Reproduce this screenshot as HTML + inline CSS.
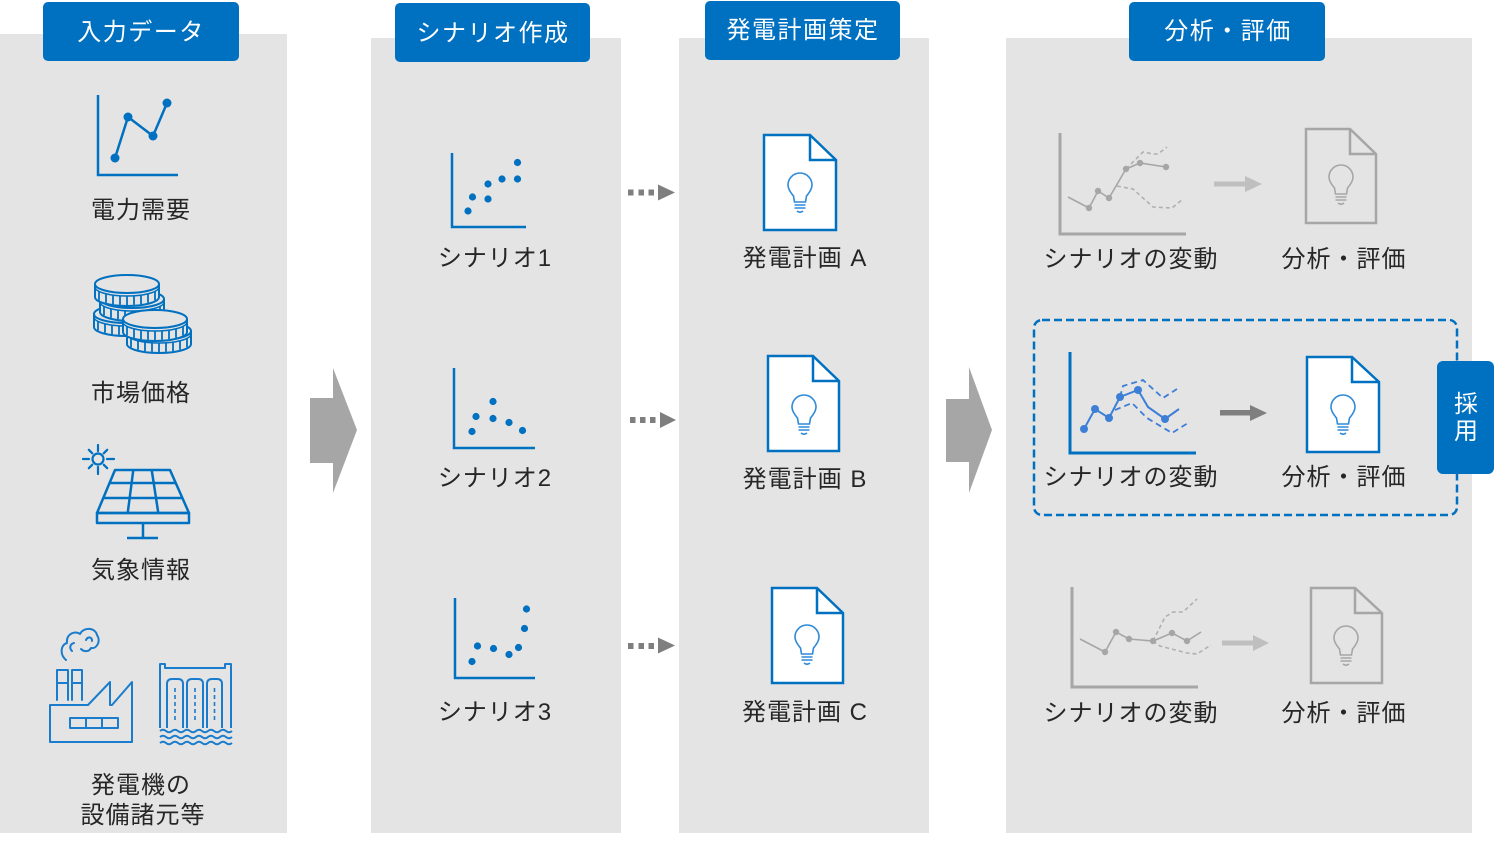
<!DOCTYPE html>
<html><head><meta charset="utf-8"><style>
html,body{margin:0;padding:0;background:#fff;}
svg{display:block;}
text{font-family:"Liberation Sans","Noto Sans CJK JP",sans-serif;}
.t{font-size:24px;fill:#262626;letter-spacing:1px;text-anchor:middle;}
.h{font-size:24px;fill:#fff;letter-spacing:1.5px;text-anchor:middle;}
</style></head><body>
<svg width="1506" height="849" viewBox="0 0 1506 849" xmlns="http://www.w3.org/2000/svg">
<defs>
<g id="coin" stroke="#0070c0" fill="#e4e4e4">
<path d="M-32,0 V13 A32,9 0 0 0 32,13 V0" stroke-width="2"/>
<ellipse cx="0" cy="0" rx="32" ry="9" stroke-width="2"/>
<path d="M-32,3 A32,9 0 0 0 32,3" fill="none" stroke-width="1.5"/>
<path d="M-28,7.4 V16.4 M-21,9.8 V18.8 M-14,11.1 V20.1 M-7,11.8 V20.8 M0,12 V21 M7,11.8 V20.8 M14,11.1 V20.1 M21,9.8 V18.8 M28,7.4 V16.4" fill="none" stroke-width="1.8"/>
</g>
<g id="bulbB" fill="none" stroke="#2f8ad8" stroke-width="1.6">
<path d="M-6.5,11 C-8,9 -12,5 -12,0 A12,12 0 1 1 12,0 C12,5 8,9 6.5,11 L5.5,17 H-5.5 Z"/>
<path d="M-5.5,20 H5.5 M-5.5,23 H5.5 M-3,26 Q0,28.5 3,26"/>
</g>
<g id="bulbG" fill="none" stroke="#a6a6a6" stroke-width="1.6">
<path d="M-6.5,11 C-8,9 -12,5 -12,0 A12,12 0 1 1 12,0 C12,5 8,9 6.5,11 L5.5,17 H-5.5 Z"/>
<path d="M-5.5,20 H5.5 M-5.5,23 H5.5 M-3,26 Q0,28.5 3,26"/>
</g>
</defs>

<!-- panels -->
<rect x="0" y="34" width="287" height="799" fill="#e4e4e4"/>
<rect x="371" y="38" width="250" height="795" fill="#e4e4e4"/>
<rect x="679" y="38" width="250" height="795" fill="#e4e4e4"/>
<rect x="1006" y="38" width="466" height="795" fill="#e4e4e4"/>

<!-- tabs -->
<rect x="43" y="2" width="196" height="59" rx="5" fill="#0070c0"/>
<rect x="395" y="3" width="195" height="59" rx="5" fill="#0070c0"/>
<rect x="705" y="1" width="195" height="59" rx="5" fill="#0070c0"/>
<rect x="1129" y="2" width="196" height="59" rx="5" fill="#0070c0"/>
<text class="h" x="141" y="40">入力データ</text>
<text class="h" x="493" y="41">シナリオ作成</text>
<text class="h" x="803" y="38">発電計画策定</text>
<text class="h" x="1228" y="39">分析・評価</text>

<!-- big arrows -->
<polygon points="310,398 333,398 333,368 357,430 333,493 333,463 310,463" fill="#a6a6a6"/>
<polygon points="946,399 969,399 969,367 992,430 969,493 969,462 946,462" fill="#a6a6a6"/>

<!-- panel 1: line chart -->
<g fill="none" stroke="#0070c0" stroke-width="2.5">
<polyline points="98,95 98,175 178,175"/>
<polyline points="115,158 128,117 153,136 167,103"/>
</g>
<g fill="#0070c0">
<circle cx="115" cy="158" r="4.5"/><circle cx="128" cy="117" r="4.5"/><circle cx="153" cy="136" r="4.5"/><circle cx="167" cy="103" r="4.5"/>
</g>
<text class="t" x="141" y="218">電力需要</text>

<!-- coins -->
<use href="#coin" x="126" y="314"/>
<use href="#coin" x="132" y="299"/>
<use href="#coin" x="127" y="284"/>
<use href="#coin" x="159" y="331"/>
<use href="#coin" x="155" y="319"/>
<text class="t" x="141" y="401">市場価格</text>

<!-- solar -->
<g fill="none" stroke="#0070c0" stroke-width="2.2" stroke-linecap="round">
<circle cx="98" cy="459" r="5.5"/>
<path d="M98,445 V451 M98,467 V474 M83,459 H89 M107,459 H114 M103.7,453.3 L107.2,449.8 M92.3,453.3 L88.8,449.8 M103.7,464.7 L107.2,468.2 M92.3,464.7 L88.8,468.2"/>
</g>
<g fill="none" stroke="#0070c0" stroke-width="2.5" stroke-linejoin="round">
<path d="M115,470 H170 L189,513 H97 Z"/>
<rect x="97" y="513" width="92" height="10"/>
<path d="M143,523 V538 M127,538 H158"/>
<path d="M109.6,483 H175.7 M103.3,498 H182.4 M133.3,470 L127.7,513 M151.7,470 L158.3,513"/>
</g>
<text class="t" x="141" y="578">気象情報</text>

<!-- factory -->
<g fill="none" stroke="#1a7ccc" stroke-width="2" stroke-linejoin="round" stroke-linecap="round">
<path d="M66,660 C60,655 60,645 67,643 C66,634 75,630 80,634 C83,627 95,627 97,635 C101,641 97,649 91,648 C89,652 84,652 81,649"/>
<path d="M72,651 C69,648 70,644 74,643 M86,640 C88,636 92,637 92,641"/>
<path d="M57,700 V670 H68 V700 M72,700 V670 H82 V700 M57,683 H68 M72,683 H82"/>
<path d="M50,705 H88 L110,682 V705 H112 L132,682 V742 H50 Z"/>
<rect x="70" y="718" width="48" height="10"/>
<path d="M86,718 V728 M102,718 V728"/>
</g>
<!-- dam -->
<g fill="none" stroke="#1a7ccc" stroke-width="2" stroke-linejoin="round">
<path d="M160,728 V664 H165 V668 H225 V664 H231 V728"/>
<path d="M167,728 V684 Q167,679 172,679 H178 Q183,679 183,684 V728"/>
<path d="M187,728 V684 Q187,679 192,679 H198 Q203,679 203,684 V728"/>
<path d="M207,728 V684 Q207,679 212,679 H217 Q222,679 222,684 V728"/>
<path d="M175,688 V722 M195,688 V722 M214.5,688 V722" stroke-dasharray="4 3" stroke-width="1.6"/>
<path d="M160,731 q3,-2.5 6,0 t6,0 t6,0 t6,0 t6,0 t6,0 t6,0 t6,0 t6,0 t6,0 t6,0 t6,0"/>
<path d="M160,737 q3,-2.5 6,0 t6,0 t6,0 t6,0 t6,0 t6,0 t6,0 t6,0 t6,0 t6,0 t6,0 t6,0"/>
<path d="M160,743 q3,-2.5 6,0 t6,0 t6,0 t6,0 t6,0 t6,0 t6,0 t6,0 t6,0 t6,0 t6,0 t6,0"/>
</g>
<text class="t" x="141" y="793">発電機の</text>
<text class="t" x="143" y="823">設備諸元等</text>

<!-- scatter 1 -->
<polyline points="452,153 452,227 526,227" fill="none" stroke="#0070c0" stroke-width="2.5"/>
<g fill="#0070c0">
<circle cx="517.5" cy="162.5" r="3.6"/><circle cx="502" cy="179" r="3.6"/><circle cx="517.5" cy="179" r="3.6"/><circle cx="488" cy="184" r="3.6"/><circle cx="488" cy="199" r="3.6"/><circle cx="472.5" cy="197" r="3.6"/><circle cx="468" cy="211" r="3.6"/>
</g>
<text class="t" x="495" y="266">シナリオ1</text>

<!-- scatter 2 -->
<polyline points="454,368 454,448 535,448" fill="none" stroke="#0070c0" stroke-width="2.5"/>
<g fill="#0070c0">
<circle cx="472" cy="431.5" r="3.6"/><circle cx="476" cy="416.5" r="3.6"/><circle cx="493" cy="401.5" r="3.6"/><circle cx="493" cy="418.5" r="3.6"/><circle cx="509" cy="422.5" r="3.6"/><circle cx="522.5" cy="430.5" r="3.6"/>
</g>
<text class="t" x="495" y="486">シナリオ2</text>

<!-- scatter 3 -->
<polyline points="455,598 455,678 535,678" fill="none" stroke="#0070c0" stroke-width="2.5"/>
<g fill="#0070c0">
<circle cx="472" cy="661.5" r="3.6"/><circle cx="477.5" cy="646" r="3.6"/><circle cx="493.5" cy="648.5" r="3.6"/><circle cx="509" cy="654.5" r="3.6"/><circle cx="518.5" cy="647.5" r="3.6"/><circle cx="524.5" cy="628.5" r="3.6"/><circle cx="526.5" cy="609" r="3.6"/>
</g>
<text class="t" x="495" y="720">シナリオ3</text>

<!-- dotted arrows -->
<g fill="#7f7f7f">
<rect x="628" y="189.5" width="5.5" height="6"/><rect x="638.5" y="189.5" width="5.5" height="6"/><rect x="648.5" y="189.5" width="5.5" height="6"/>
<polygon points="658,184.5 675,192.5 658,200.5"/>
<rect x="630" y="417" width="5.5" height="6"/><rect x="640" y="417" width="5.5" height="6"/><rect x="650" y="417" width="5.5" height="6"/>
<polygon points="660,412 676,420 660,428"/>
<rect x="628" y="643" width="5.5" height="6"/><rect x="638.5" y="643" width="5.5" height="6"/><rect x="648.5" y="643" width="5.5" height="6"/>
<polygon points="658,637.5 675,645.5 658,653.5"/>
</g>

<!-- docs panel 3 -->
<g fill="#fff" stroke="#0070c0" stroke-width="2.5" stroke-linejoin="miter">
<path d="M764,135 H810 L836,160 V230 H764 Z"/>
<path d="M768,356 H813 L839,381 V451 H768 Z"/>
<path d="M772,588 H817 L843,613 V683 H772 Z"/>
</g>
<g fill="none" stroke="#0070c0" stroke-width="2.5">
<path d="M810,135 V160 H836"/>
<path d="M813,356 V381 H839"/>
<path d="M817,588 V613 H843"/>
</g>
<use href="#bulbB" x="800" y="185"/>
<use href="#bulbB" x="804" y="407"/>
<use href="#bulbB" x="807" y="637"/>
<text class="t" x="805" y="266">発電計画 A</text>
<text class="t" x="805" y="487">発電計画 B</text>
<text class="t" x="805" y="720">発電計画 C</text>

<!-- panel 4 row 1 (gray) -->
<polyline points="1060,133 1060,234 1186,234" fill="none" stroke="#a6a6a6" stroke-width="3"/>
<polyline points="1068,197 1089,208 1098,191 1109,198 1126,169 1140,163 1166,167" fill="none" stroke="#a6a6a6" stroke-width="1.6"/>
<g fill="none" stroke="#b0b0b0" stroke-width="1.6" stroke-dasharray="4 3">
<polyline points="1126,169 1143,152 1153,154 1158,154 1167,147"/>
<polyline points="1117,186 1133,189 1153,207 1172,208 1183,199"/>
</g>
<g fill="#a6a6a6">
<circle cx="1089" cy="208" r="3.2"/><circle cx="1098" cy="191" r="3.2"/><circle cx="1109" cy="198" r="3.2"/><circle cx="1126" cy="169" r="3.2"/><circle cx="1140" cy="163" r="3.2"/><circle cx="1166" cy="167" r="3.2"/>
</g>
<rect x="1214" y="181.5" width="32" height="5" fill="#bfbfbf"/>
<polygon points="1245,176 1262,184 1245,192" fill="#bfbfbf"/>
<path d="M1306,129 H1350 L1376,154 V223 H1306 Z M1350,129 V154 H1376" fill="none" stroke="#a6a6a6" stroke-width="2.5"/>
<use href="#bulbG" x="1341" y="177"/>
<text class="t" x="1131" y="267">シナリオの変動</text>
<text class="t" x="1344" y="267">分析・評価</text>

<!-- panel 4 row 2 (blue) -->
<rect x="1034" y="320" width="423" height="195" rx="8" fill="none" stroke="#0070c0" stroke-width="2.5" stroke-dasharray="8 4"/>
<polyline points="1070,352 1070,453 1196,453" fill="none" stroke="#0070c0" stroke-width="3"/>
<polyline points="1084,429 1095,409 1109,418 1120,397 1138,390 1148,407 1165,419 1179,409" fill="none" stroke="#3d7fd6" stroke-width="2"/>
<g fill="none" stroke="#3d7fd6" stroke-width="1.8" stroke-dasharray="6 4">
<polyline points="1120,397 1123,386 1143,380 1163,398 1177,389"/>
<polyline points="1115,410 1132,403 1147,418 1172,433 1188,423"/>
</g>
<g fill="#3d7fd6">
<circle cx="1084" cy="429" r="4"/><circle cx="1095" cy="409" r="4"/><circle cx="1109" cy="418" r="4"/><circle cx="1120" cy="397" r="4"/><circle cx="1138" cy="390" r="4"/><circle cx="1165" cy="419" r="4"/>
</g>
<rect x="1220" y="410" width="31" height="5.5" fill="#7f7f7f"/>
<polygon points="1250,405 1267,413 1250,421" fill="#7f7f7f"/>
<path d="M1307,357 H1352 L1379,382 V452 H1307 Z" fill="#fff" stroke="#0070c0" stroke-width="2.5"/>
<path d="M1352,357 V382 H1379" fill="none" stroke="#0070c0" stroke-width="2.5"/>
<use href="#bulbB" x="1343" y="407"/>
<text class="t" x="1131" y="485">シナリオの変動</text>
<text class="t" x="1344" y="485">分析・評価</text>

<!-- 採用 tag -->
<rect x="1437" y="361" width="57" height="113" rx="6" fill="#0070c0"/>
<text class="h" x="1466" y="412" style="letter-spacing:0">採</text>
<text class="h" x="1466" y="439" style="letter-spacing:0">用</text>

<!-- panel 4 row 3 (gray) -->
<polyline points="1072,587 1072,687 1198,687" fill="none" stroke="#a6a6a6" stroke-width="3"/>
<polyline points="1080,639 1105,652 1116,632 1129,639 1153,641 1172,633 1187,641 1201,632" fill="none" stroke="#a6a6a6" stroke-width="1.6"/>
<g fill="none" stroke="#b0b0b0" stroke-width="1.6" stroke-dasharray="4 3">
<polyline points="1153,641 1165,617 1173,612 1183,612 1197,599"/>
<polyline points="1153,641 1160,646 1187,653 1197,654 1211,645"/>
</g>
<g fill="#a6a6a6">
<circle cx="1105" cy="652" r="3.2"/><circle cx="1116" cy="632" r="3.2"/><circle cx="1129" cy="639" r="3.2"/><circle cx="1153" cy="641" r="3.2"/><circle cx="1172" cy="633" r="3.2"/><circle cx="1187" cy="641" r="3.2"/>
</g>
<rect x="1222" y="640.5" width="32" height="5" fill="#bfbfbf"/>
<polygon points="1253,635 1269,643 1253,651" fill="#bfbfbf"/>
<path d="M1311,588 H1355 L1382,613 V683 H1311 Z M1355,588 V613 H1382" fill="none" stroke="#a6a6a6" stroke-width="2.5"/>
<use href="#bulbG" x="1346" y="638"/>
<text class="t" x="1131" y="721">シナリオの変動</text>
<text class="t" x="1344" y="721">分析・評価</text>
</svg>
</body></html>
